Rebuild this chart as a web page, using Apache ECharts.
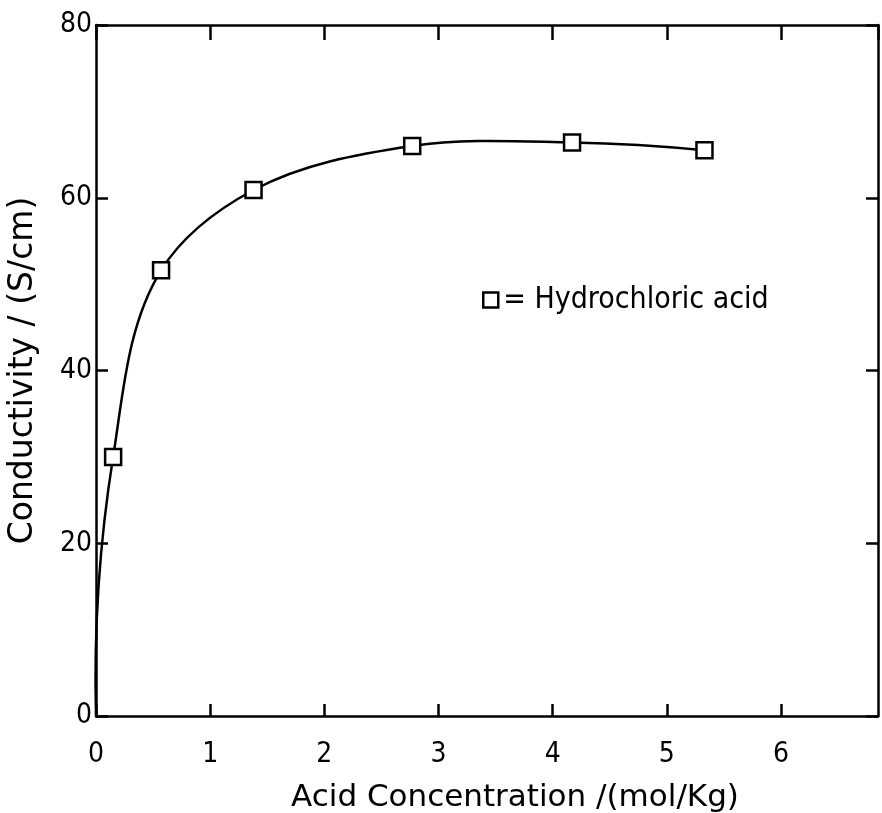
<!DOCTYPE html>
<html><head><meta charset="utf-8">
<script src="https://cdn.jsdelivr.net/npm/echarts@6/dist/echarts.min.js"></script>
<style>html,body{margin:0;padding:0;background:#fff}#c{width:882px;height:813px}</style>
</head><body><div id="c"></div>
<script>
const concentration = [0.15, 0.57, 1.38, 2.77, 4.17, 5.33];
const conductivity = [30, 51.6, 60.9, 66.0, 66.4, 65.5];
const curveStart = [0, 0];
const xTicks = [0, 1, 2, 3, 4, 5, 6];
const yTicks = [0, 20, 40, 60, 80];
const seriesName = '= Hydrochloric acid';
const xName = 'Acid Concentration /(mol/Kg)';
const yName = 'Conductivity / (S/cm)';

const pts = concentration.map((x, i) => [x, conductivity[i]]);
const curve = [curveStart].concat(pts);
const tickFont = '"Liberation Sans Narrow", "DejaVu Sans Condensed", sans-serif';
const nameFont = '"DejaVu Sans", sans-serif';
const axisLine = { show: true, onZero: false, lineStyle: { color: '#000', width: 2.5 } };
const tick = { show: true, inside: true, length: 12, lineStyle: { color: '#000', width: 2.5 } };

function unit(a, b) {
  const dx = b[0] - a[0], dy = b[1] - a[1], l = Math.hypot(dx, dy) || 1;
  return [dx / l, dy / l];
}
function norm(v) { const l = Math.hypot(v[0], v[1]) || 1; return [v[0] / l, v[1] / l]; }

// smooth curve through the data, built in pixel space from api.coord
function renderCurve(params, api) {
  if (params.dataIndex !== 0) return;
  const P = curve.map(p => api.coord(p));
  const n = P.length, T = [];
  for (let i = 1; i < n - 1; i++) {
    const u1 = unit(P[i - 1], P[i]), u2 = unit(P[i], P[i + 1]);
    T[i] = norm([u1[0] + u2[0], u1[1] + u2[1]]);
  }
  const s0 = unit(P[0], P[1]);
  T[0] = norm([2 * s0[0] - T[1][0], 2 * s0[1] - T[1][1]]);
  const se = unit(P[n - 2], P[n - 1]);
  T[n - 1] = norm([2 * se[0] - T[n - 2][0], 2 * se[1] - T[n - 2][1]]);
  let path = 'M' + P[0][0] + ' ' + P[0][1];
  for (let i = 0; i < n - 1; i++) {
    const L = Math.hypot(P[i + 1][0] - P[i][0], P[i + 1][1] - P[i][1]) / 3;
    const c1 = [P[i][0] + T[i][0] * L, P[i][1] + T[i][1] * L];
    const c2 = [P[i + 1][0] - T[i + 1][0] * L, P[i + 1][1] - T[i + 1][1] * L];
    path += ' C' + c1[0] + ' ' + c1[1] + ' ' + c2[0] + ' ' + c2[1] + ' ' + P[i + 1][0] + ' ' + P[i + 1][1];
  }
  return { type: 'path', shape: { pathData: path }, style: { fill: 'none', stroke: '#000', lineWidth: 2.5 } };
}

const chart = echarts.init(document.getElementById('c'));
chart.setOption({
  animation: false,
  backgroundColor: '#fff',
  grid: { left: 96, right: 4, top: 25, bottom: 97, containLabel: false, outerBoundsMode: 'none' },
  legend: {
    left: 477, top: 280, itemWidth: 15, itemHeight: 15, itemGap: 4,
    textStyle: { fontFamily: tickFont, fontSize: 30, color: '#000' },
    data: [{ name: seriesName, icon: 'rect', itemStyle: { color: '#fff', borderColor: '#000', borderWidth: 2.5 } }]
  },
  xAxis: [{
    type: 'value', min: 0, max: 6.85, interval: 1,
    axisLine, axisTick: tick, splitLine: { show: false },
    axisLabel: { fontFamily: tickFont, fontSize: 28, color: '#000', margin: 25, showMaxLabel: false,
      formatter: v => xTicks.includes(v) ? String(v) : '' },
    name: xName, nameLocation: 'middle', nameGap: 66,
    nameTextStyle: { fontFamily: nameFont, fontSize: 31, color: '#000', padding: [0, 0, 0, 56] }
  }, {
    type: 'value', position: 'top', min: 0, max: 6.85, interval: 1,
    axisLine, axisTick: { ...tick, length: 15 }, axisLabel: { show: false }, splitLine: { show: false }
  }],
  yAxis: [{
    type: 'value', min: 0, max: 80, interval: 20,
    axisLine, axisTick: tick, splitLine: { show: false },
    axisLabel: { fontFamily: tickFont, fontSize: 28, color: '#000', margin: 4,
      formatter: v => yTicks.includes(v) ? String(v) : '' },
    name: yName, nameLocation: 'middle', nameGap: 56,
    nameTextStyle: { fontFamily: nameFont, fontSize: 33, color: '#000' }
  }, {
    type: 'value', position: 'right', min: 0, max: 80, interval: 20,
    axisLine, axisTick: tick, axisLabel: { show: false }, splitLine: { show: false }
  }],
  series: [{
    type: 'custom', renderItem: renderCurve, data: curve, silent: true, z: 2,
    encode: { x: 0, y: 1 }
  }, {
    name: seriesName, type: 'scatter', data: pts, symbol: 'rect', symbolSize: 16,
    itemStyle: { color: '#fff', borderColor: '#000', borderWidth: 2.5, opacity: 1 }, z: 3
  }]
});
</script></body></html>
